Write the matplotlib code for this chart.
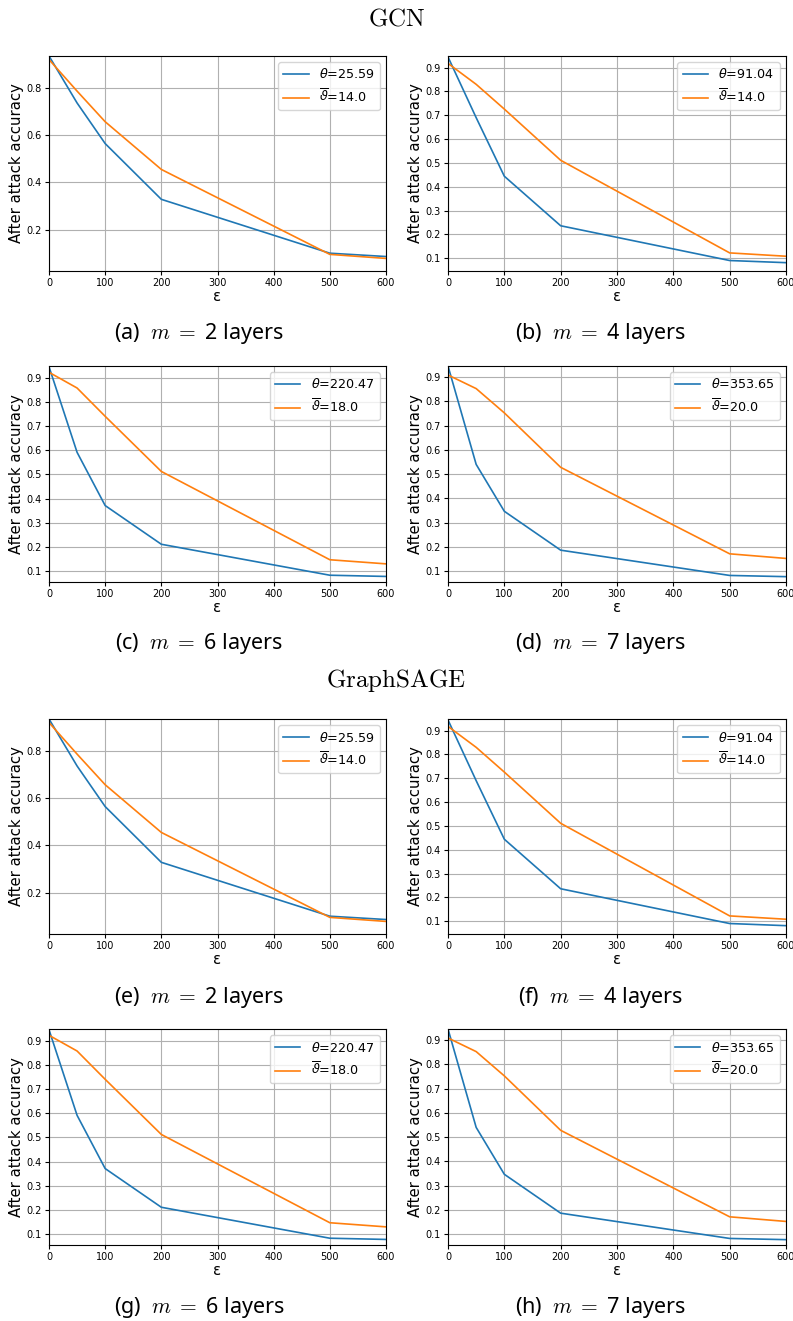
import numpy as np
import matplotlib
matplotlib.use("Agg")
import matplotlib.pyplot as plt

# attack budget on the x axis
eps = [0, 50, 100, 200, 500, 600]

# after-attack accuracy, one pair of curves per depth
theta_m2 = [0.933, 0.735, 0.564, 0.329, 0.102, 0.088]
bar_m2 = [0.918, 0.785, 0.656, 0.455, 0.097, 0.080]
theta_m4 = [0.945, 0.69, 0.444, 0.236, 0.090, 0.081]
bar_m4 = [0.918, 0.830, 0.726, 0.511, 0.122, 0.108]
theta_m6 = [0.945, 0.591, 0.371, 0.211, 0.083, 0.078]
bar_m6 = [0.922, 0.857, 0.740, 0.512, 0.147, 0.130]
theta_m7 = [0.945, 0.540, 0.347, 0.187, 0.083, 0.078]
bar_m7 = [0.908, 0.852, 0.752, 0.528, 0.172, 0.153]

layers = [2, 4, 6, 7]
theta_vals = [25.59, 91.04, 220.47, 353.65]
bar_vals = [14.0, 14.0, 18.0, 20.0]
ylims = [(0.027, 0.933), (0.046, 0.949), (0.055, 0.948), (0.056, 0.945)]
yticks = [[0.2, 0.4, 0.6, 0.8],
          [0.1, 0.2, 0.3, 0.4, 0.5, 0.6, 0.7, 0.8, 0.9],
          [0.1, 0.2, 0.3, 0.4, 0.5, 0.6, 0.7, 0.8, 0.9],
          [0.1, 0.2, 0.3, 0.4, 0.5, 0.6, 0.7, 0.8, 0.9]]
theta_curves = [theta_m2, theta_m4, theta_m6, theta_m7]
bar_curves = [bar_m2, bar_m4, bar_m6, bar_m7]

models = ["GCN", "GraphSAGE"]
letters = ["abcd", "efgh"]

W, H = 793, 1321
fig = plt.figure(figsize=(W / 100, H / 100), dpi=100)

col_x = [(49, 386), (448, 786)]
col_cap = [199, 600]
row_y = [(56, 271), (366, 582)]
block = 663


def px_rect(x0, x1, y0, y1):
    return [x0 / W, 1 - y1 / H, (x1 - x0) / W, (y1 - y0) / H]


for b, model in enumerate(models):
    off = b * block
    fig.text(0.5, 1 - (18 + off) / H, r"$\mathrm{%s}$" % model,
             ha="center", va="center", fontsize=18, math_fontfamily="cm")
    for k in range(4):
        r, c = divmod(k, 2)
        x0, x1 = col_x[c]
        y0, y1 = row_y[r]
        ax = fig.add_axes(px_rect(x0, x1, y0 + off, y1 + off))
        ax.plot(eps, theta_curves[k], color="#1f77b4", lw=1.2,
                label=r"$\theta$=%s" % theta_vals[k])
        ax.plot(eps, bar_curves[k], color="#ff7f0e", lw=1.2,
                label=r"$\overline{\vartheta}$=%s" % bar_vals[k])
        ax.set_xlim(0, 600)
        ax.set_ylim(*ylims[k])
        ax.set_xticks(range(0, 601, 100))
        ax.set_yticks(yticks[k])
        ax.tick_params(labelsize=7, length=3, width=0.8, pad=2)
        ax.grid(True)
        ax.set_xlabel("ε", fontsize=10.7, labelpad=1)
        ax.set_ylabel("After attack accuracy", fontsize=10.7, labelpad=2)
        ax.legend(loc="upper right", fontsize=9.2)
        cy = 334 + r * 310 + off
        fig.text(col_cap[c] / W, 1 - cy / H,
                 "(%s)  $m$ $=$ %d layers" % (letters[b][k], layers[k]),
                 ha="center", va="center", fontsize=15.5, family="Noto Sans",
                 math_fontfamily="cm")

fig.savefig("out.png", dpi=100)
